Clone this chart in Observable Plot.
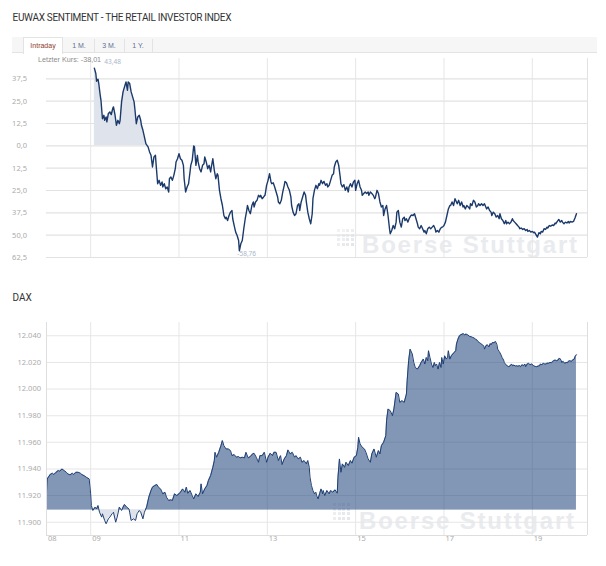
<!DOCTYPE html>
<html><head><meta charset="utf-8">
<script src="https://cdn.jsdelivr.net/npm/d3@7"></script>
<script src="https://cdn.jsdelivr.net/npm/@observablehq/plot@0.6"></script>
<style>
html,body{margin:0;padding:0;background:#fff;}
body{width:606px;height:566px;position:relative;overflow:hidden;font-family:"Liberation Sans",Arial,sans-serif;}
.abs{position:absolute;}
#title{left:12.5px;top:11.6px;font-family:Roboto,sans-serif;font-size:10px;line-height:12px;letter-spacing:-0.3px;color:#333;white-space:nowrap;}
#daxTitle{left:12.5px;top:292.3px;font-family:Roboto,sans-serif;font-size:10px;line-height:12px;color:#333;}
#tabbar{left:12px;top:37px;width:585px;height:16px;background:#f6f6f6;border-bottom:1px solid #e3e3e3;box-sizing:border-box;}
.tab{top:37px;height:16px;font-size:7px;line-height:17px;text-align:center;color:#5d6f92;box-sizing:border-box;}
.tab.active{background:#fff;border:1px solid #e3e3e3;border-bottom:none;color:#8e3a2a;line-height:15px;height:17px;}
.sep{top:39px;width:1px;height:14px;background:#e3e3e3;}
#last{left:38px;top:54.5px;font-size:7.2px;line-height:9px;color:#8c8c8c;white-space:nowrap;z-index:5;}
.wmtext{font-weight:bold;font-size:24px;line-height:24px;letter-spacing:1.8px;color:#e9ebee;white-space:nowrap;}
.logo{display:grid;grid-template-columns:repeat(4,3px);grid-gap:1.6px;}
.logo span{width:3px;height:3px;display:block;}
#chart1,#chart2{left:0;}
#chart1{top:0;z-index:2;}
#chart2{top:300px;z-index:2;}
</style></head><body>
<div id="title" class="abs">EUWAX SENTIMENT - THE RETAIL INVESTOR INDEX</div>
<div id="tabbar" class="abs"></div>
<div class="abs tab active" style="left:23px;width:40px;">Intraday</div>
<div class="abs tab" style="left:64px;width:30px;">1 M.</div>
<div class="abs sep" style="left:94px;"></div>
<div class="abs tab" style="left:94px;width:30px;">3 M.</div>
<div class="abs sep" style="left:124px;"></div>
<div class="abs tab" style="left:124px;width:28px;">1 Y.</div>
<div class="abs sep" style="left:152px;"></div>
<div id="wm1logo" class="abs logo" style="left:337px;top:229px;"></div>
<div class="abs wmtext" style="left:362px;top:233px;">Boerse Stuttgart</div>
<div id="chart1" class="abs"></div>
<div id="last" class="abs"></div>
<div id="daxTitle" class="abs">DAX</div>
<div id="wm2logo" class="abs logo" style="left:333px;top:503px;"></div>
<div class="abs wmtext" style="left:359px;top:509px;">Boerse Stuttgart</div>
<div id="chart2" class="abs"></div>
<script>
// ---------- DATA ----------
const euwaxTime = ["09:05","09:07","09:08","09:10","09:11","09:13","09:14","09:16","09:18","09:19","09:21","09:22","09:24","09:26","09:28","09:30","09:31","09:33","09:35","09:37","09:39","09:40","09:42","09:44","09:46","09:48","09:50","09:51","09:53","09:55","09:57","09:59","10:00","10:02","10:04","10:06","10:08","10:09","10:11","10:13","10:15","10:17","10:18","10:20","10:22","10:24","10:26","10:28","10:29","10:31","10:33","10:35","10:37","10:38","10:40","10:42","10:44","10:46","10:47","10:49","10:51","10:53","10:55","10:56","10:58","11:00","11:02","11:04","11:06","11:07","11:09","11:11","11:13","11:15","11:16","11:18","11:20","11:21","11:23","11:25","11:26","11:28","11:30","11:32","11:34","11:35","11:37","11:39","11:41","11:43","11:44","11:46","11:48","11:50","11:52","11:53","11:55","11:57","11:59","12:01","12:03","12:04","12:06","12:08","12:10","12:12","12:13","12:15","12:17","12:19","12:21","12:22","12:24","12:26","12:28","12:30","12:32","12:33","12:35","12:37","12:39","12:41","12:42","12:44","12:46","12:48","12:50","12:51","12:53","12:55","12:57","12:59","13:01","13:03","13:05","13:06","13:08","13:10","13:12","13:14","13:15","13:17","13:19","13:21","13:23","13:24","13:26","13:28","13:30","13:32","13:33","13:35","13:37","13:39","13:41","13:43","13:44","13:46","13:48","13:50","13:52","13:53","13:55","13:57","13:59","14:01","14:02","14:04","14:06","14:08","14:10","14:11","14:13","14:15","14:17","14:19","14:21","14:22","14:24","14:26","14:28","14:30","14:31","14:33","14:35","14:37","14:39","14:40","14:42","14:44","14:46","14:48","14:50","14:51","14:53","14:55","14:57","14:59","15:00","15:02","15:04","15:06","15:08","15:09","15:11","15:13","15:15","15:17","15:18","15:20","15:22","15:24","15:26","15:27","15:29","15:31","15:33","15:35","15:37","15:38","15:40","15:42","15:44","15:46","15:47","15:49","15:51","15:53","15:55","15:56","15:58","16:00","16:02","16:04","16:06","16:07","16:09","16:11","16:13","16:15","16:16","16:18","16:20","16:22","16:24","16:25","16:27","16:29","16:31","16:33","16:34","16:36","16:38","16:40","16:42","16:44","16:46","16:48","16:49","16:51","16:53","16:55","16:57","16:58","17:00","17:02","17:04","17:06","17:08","17:09","17:11","17:13","17:15","17:17","17:18","17:20","17:22","17:24","17:26","17:27","17:29","17:31","17:33","17:35","17:36","17:38","17:40","17:42","17:44","17:46","17:47","17:49","17:51","17:53","17:55","17:56","17:58","18:00","18:02","18:04","18:05","18:07","18:09","18:11","18:13","18:15","18:16","18:18","18:20","18:22","18:24","18:25","18:27","18:29","18:31","18:33","18:34","18:36","18:38","18:40","18:42","18:43","18:45","18:47","18:49","18:51","18:53","18:54","18:56","18:58","19:00","19:02","19:03","19:05","19:07","19:09","19:11","19:12","19:14","19:16","19:18","19:20","19:21","19:23","19:25","19:27","19:29","19:31","19:32","19:34","19:36","19:38","19:40","19:41","19:43","19:45","19:47","19:49","19:50","19:52","19:54","19:56","19:58","20:00"];
const euwaxValue = [43.48,40.5,36.2,37.3,34.9,28.3,25.5,15.2,17.1,14.3,16.2,13.4,18.0,19.0,17.5,20.9,21.8,17.5,11.5,14.3,12.4,14.3,24.6,30.2,33.0,35.8,31.1,35.8,34.9,30.2,27.4,24.6,20.9,12.4,16.2,17.1,14.3,11.5,8.7,5.0,1.2,0.0,-0.6,-3.4,-5.3,-11.8,-6.2,-5.3,-10.9,-21.2,-19.3,-22.1,-20.2,-23.0,-21.2,-24.0,-23.0,-25.8,-18.4,-17.4,-19.3,-16.5,-12.8,-9.0,-7.2,-4.4,-7.2,-8.1,-10.9,-18.4,-25.8,-23.0,-21.2,-14.6,-10.9,-8.1,0.0,-0.6,-10.9,-5.3,-9.0,-12.8,-14.6,-10.9,-10.0,-6.2,-9.0,-12.8,-10.9,-14.6,-11.8,-7.2,-13.7,-18.4,-15.6,-16.5,-24.9,-29.6,-33.4,-39.0,-40.8,-39.9,-41.8,-39.0,-37.1,-36.2,-40.8,-44.6,-48.3,-50.2,-53.0,-58.76,-54.8,-53.0,-46.4,-40.8,-36.2,-33.4,-36.2,-38.0,-33.4,-31.4,-34.2,-31.4,-30.5,-27.7,-28.6,-27.7,-29.6,-28.6,-27.5,-22.1,-19.3,-15.6,-20.2,-21.2,-20.7,-23.0,-25.8,-28.6,-31.4,-32.4,-30.5,-25.8,-22.1,-19.9,-20.7,-23.0,-24.9,-28.6,-33.4,-37.1,-39.0,-38.0,-33.4,-32.4,-36.2,-31.4,-28.6,-25.8,-27.7,-31.4,-37.1,-40.8,-43.6,-38.0,-29.6,-24.9,-22.1,-24.0,-21.2,-22.1,-19.3,-21.2,-19.9,-22.1,-21.2,-23.0,-22.1,-19.3,-16.5,-15.6,-11.8,-9.0,-8.1,-10.9,-17.4,-21.2,-23.0,-21.7,-24.9,-23.0,-25.8,-23.0,-21.2,-23.0,-20.2,-19.3,-24.9,-21.2,-19.3,-23.0,-24.9,-27.7,-26.7,-25.8,-26.7,-25.8,-27.7,-25.8,-26.7,-27.7,-29.6,-28.6,-24.9,-26.7,-31.4,-34.2,-33.4,-39.0,-35.3,-33.4,-39.0,-46.4,-49.2,-47.4,-44.6,-46.4,-42.7,-37.1,-36.2,-42.7,-45.5,-40.8,-39.9,-41.8,-40.8,-42.7,-40.4,-39.0,-38.7,-39.0,-38.0,-40.8,-43.6,-45.5,-46.4,-44.6,-46.4,-48.3,-47.4,-49.2,-46.4,-45.5,-46.4,-45.5,-44.6,-46.4,-48.3,-47.4,-48.3,-46.4,-45.5,-45.5,-44.6,-42.7,-39.0,-35.3,-33.4,-33.4,-31.4,-33.4,-29.6,-31.4,-32.4,-30.5,-33.4,-31.4,-34.2,-33.4,-35.3,-33.4,-34.2,-35.3,-32.4,-33.4,-30.5,-31.4,-34.2,-33.4,-32.4,-33.4,-32.4,-33.4,-32.4,-33.4,-35.3,-34.2,-36.2,-37.1,-39.0,-37.1,-38.0,-39.9,-39.0,-40.8,-38.0,-40.8,-41.8,-43.6,-41.8,-43.6,-42.7,-43.6,-42.7,-40.8,-41.8,-42.7,-43.6,-44.6,-45.5,-46.4,-46.0,-46.8,-46.4,-47.4,-46.8,-47.9,-47.4,-48.3,-47.9,-48.6,-48.3,-49.7,-51.1,-48.6,-49.2,-47.9,-48.3,-46.4,-46.8,-45.5,-46.0,-44.6,-45.0,-44.3,-44.6,-43.2,-43.6,-42.3,-41.2,-42.7,-41.8,-42.7,-43.6,-42.7,-43.2,-42.3,-43.2,-42.3,-42.7,-42.3,-40.4,-38.01];

const daxTime = ["08:00","08:01","08:05","08:08","08:10","08:13","08:16","08:18","08:21","08:24","08:27","08:29","08:32","08:35","08:37","08:40","08:43","08:46","08:48","08:51","08:54","08:58","09:00","09:01","09:03","09:06","09:08","09:10","09:12","09:15","09:16","09:19","09:21","09:24","09:26","09:29","09:31","09:34","09:36","09:39","09:42","09:44","09:46","09:49","09:52","09:53","09:55","09:58","10:01","10:03","10:06","10:08","10:11","10:13","10:16","10:19","10:22","10:24","10:27","10:30","10:32","10:35","10:38","10:41","10:43","10:46","10:49","10:51","10:54","10:57","11:00","11:02","11:05","11:08","11:10","11:12","11:15","11:18","11:20","11:23","11:26","11:29","11:30","11:32","11:35","11:38","11:40","11:43","11:46","11:48","11:49","11:51","11:54","11:57","11:59","12:01","12:04","12:07","12:10","12:12","12:15","12:18","12:21","12:23","12:26","12:29","12:31","12:34","12:37","12:40","12:42","12:45","12:48","12:50","12:53","12:56","12:59","13:01","13:04","13:07","13:09","13:12","13:15","13:18","13:20","13:23","13:26","13:28","13:31","13:34","13:37","13:39","13:42","13:45","13:47","13:50","13:53","13:55","13:57","13:58","14:00","14:02","14:04","14:06","14:07","14:09","14:11","14:13","14:15","14:16","14:18","14:21","14:24","14:26","14:29","14:32","14:35","14:36","14:38","14:40","14:42","14:45","14:47","14:50","14:53","14:55","14:58","15:01","15:03","15:04","15:06","15:09","15:12","15:14","15:17","15:20","15:22","15:25","15:28","15:31","15:33","15:35","15:38","15:41","15:42","15:44","15:47","15:50","15:52","15:55","15:58","16:00","16:03","16:06","16:09","16:10","16:12","16:14","16:17","16:19","16:21","16:24","16:27","16:29","16:32","16:34","16:36","16:38","16:39","16:41","16:43","16:45","16:47","16:48","16:50","16:52","16:54","16:56","16:57","16:59","17:01","17:03","17:05","17:06","17:08","17:10","17:12","17:14","17:16","17:17","17:19","17:21","17:23","17:25","17:26","17:28","17:30","17:32","17:34","17:35","17:37","17:39","17:41","17:43","17:45","17:46","17:48","17:50","17:52","17:54","17:55","17:57","17:59","18:01","18:03","18:04","18:06","18:08","18:10","18:12","18:13","18:15","18:17","18:19","18:21","18:22","18:24","18:26","18:28","18:30","18:32","18:33","18:35","18:37","18:39","18:41","18:42","18:44","18:46","18:48","18:50","18:51","18:53","18:55","18:57","18:59","19:01","19:02","19:04","19:06","19:08","19:10","19:11","19:13","19:15","19:17","19:19","19:20","19:22","19:24","19:26","19:28","19:29","19:31","19:33","19:35","19:37","19:39","19:40","19:42","19:44","19:46","19:48","19:49","19:51","19:53","19:55","19:57","19:58","20:00"];
const daxValue = [11922.5,11932.5,11935.8,11936.8,11935.8,11937.5,11938.8,11938.3,11940.0,11938.8,11937.5,11936.3,11935.5,11936.8,11935.8,11937.5,11937.5,11936.8,11935.8,11935.0,11933.8,11932.5,11921.3,11912.5,11908.8,11911.3,11910.0,11912.5,11907.5,11903.8,11906.3,11901.3,11898.8,11902.5,11903.8,11906.3,11907.5,11900.0,11903.8,11911.3,11908.8,11911.3,11913.3,11911.3,11910.0,11907.5,11901.3,11902.5,11901.3,11906.3,11908.8,11907.5,11902.5,11907.5,11911.3,11918.8,11923.8,11926.3,11927.5,11928.3,11926.3,11925.0,11921.3,11922.5,11918.8,11916.3,11916.8,11916.3,11921.3,11920.0,11921.3,11922.5,11925.0,11922.5,11926.3,11921.7,11923.8,11920.0,11917.5,11921.3,11919.3,11922.5,11928.8,11921.3,11925.0,11927.5,11931.3,11935.0,11941.2,11946.3,11952.5,11948.8,11952.5,11957.5,11961.3,11957.5,11955.0,11955.0,11953.8,11950.0,11950.8,11948.8,11949.3,11948.3,11948.8,11948.3,11952.5,11948.3,11949.3,11951.3,11951.8,11948.8,11945.0,11950.0,11950.0,11952.5,11945.0,11948.8,11951.8,11950.0,11952.5,11952.5,11946.3,11950.0,11943.3,11947.5,11950.0,11954.3,11951.3,11952.5,11948.8,11950.0,11947.5,11948.8,11945.0,11946.3,11943.8,11946.3,11941.2,11933.8,11927.5,11923.8,11921.3,11922.5,11920.0,11917.5,11921.3,11925.0,11921.3,11923.8,11920.0,11923.8,11921.3,11923.8,11922.5,11924.3,11921.8,11933.8,11947.5,11937.5,11943.8,11941.2,11945.0,11942.5,11946.3,11944.3,11948.8,11950.0,11956.3,11963.8,11958.8,11956.3,11955.0,11952.5,11947.5,11945.0,11951.3,11955.0,11948.8,11953.8,11951.3,11957.5,11960.0,11965.0,11976.3,11985.0,11983.8,11980.0,11985.0,11997.5,11996.3,11990.0,11991.3,11990.0,11996.3,12006.3,12021.3,12030.0,12026.3,12020.0,12016.2,12015.0,12017.5,12020.0,12022.5,12018.8,12023.7,12021.3,12028.8,12023.7,12018.8,12016.2,12020.0,12017.5,12018.8,12015.0,12020.0,12016.2,12023.7,12018.8,12025.0,12022.5,12023.7,12028.8,12022.5,12025.0,12026.3,12027.5,12028.8,12033.8,12037.5,12040.0,12040.8,12041.3,12041.7,12040.8,12041.3,12040.8,12040.0,12039.5,12039.3,12038.8,12038.3,12037.5,12036.8,12035.8,12035.0,12034.2,12033.3,12032.5,12030.0,12032.5,12033.3,12031.7,12034.2,12033.3,12035.0,12034.7,12035.8,12033.3,12030.0,12028.3,12026.3,12023.7,12021.8,12020.0,12018.3,12017.5,12016.8,12017.5,12018.8,12017.5,12018.0,12017.3,12017.5,12017.0,12017.8,12016.8,12018.3,12017.5,12018.8,12016.8,12018.8,12019.3,12018.3,12018.8,12018.0,12017.5,12017.0,12016.8,12017.3,12017.5,12018.8,12018.3,12019.3,12018.8,12018.8,12019.5,12019.3,12020.0,12019.8,12020.8,12021.3,12021.8,12021.3,12021.8,12023.3,12021.8,12020.0,12020.8,12019.3,12020.0,12019.8,12020.8,12021.3,12020.8,12021.8,12022.5,12024.3,12025.8];
const daxBaseline = 11909;

const euwaxTicks = [-62.5,-50,-37.5,-25,-12.5,0,12.5,25,37.5];
const daxTicks = [11900,11920,11940,11960,11980,12000,12020,12040];
const timeDomain = ["08:00","20:15"];
const gridTimes = ["09:00","11:00","13:00","15:00","17:00","19:00"];
const labelTimes = ["08:00","09:00","11:00","13:00","15:00","17:00","19:00"];
const euwaxDomain = [-62.5, 48.9];
const daxDomain = [11890, 12050];

// ---------- HELPERS ----------
const parseT = s => { const [h, m] = s.split(":").map(Number); return new Date(Date.UTC(2019, 10, 19, h, m)); };
const de = d3.formatLocale({decimal: ",", thousands: ".", grouping: [3], currency: ["", " €"], minus: "-"});
const fmt1 = de.format(".1f"), fmt2 = de.format(",.0f"), fmtVal = de.format(".2f");
const fmtHour = d3.utcFormat("%H");

const euwax = euwaxTime.map((t, i) => ({t: parseT(t), v: euwaxValue[i]}));
const dax = daxTime.map((t, i) => ({t: parseT(t), v: daxValue[i]}));
const xDom = timeDomain.map(parseT);
const grid = gridTimes.map(parseT);
const labels = labelTimes.map(parseT);

const maxPt = euwax.reduce((a, b) => b.v > a.v ? b : a);
const minPt = euwax.reduce((a, b) => b.v < a.v ? b : a);
const lastPt = euwax[euwax.length - 1];
document.getElementById("last").textContent = "Letzter Kurs: " + fmtVal(lastPt.v);

const ns = "http://www.w3.org/2000/svg";
let clipId = 0;
function clipG(svg, g, y0, y1) {
  const defs = document.createElementNS(ns, "defs");
  const cp = document.createElementNS(ns, "clipPath");
  const id = "clip" + (clipId++);
  cp.setAttribute("id", id);
  const r = document.createElementNS(ns, "rect");
  r.setAttribute("x", 0); r.setAttribute("y", y0);
  r.setAttribute("width", 606); r.setAttribute("height", Math.max(0, y1 - y0));
  cp.appendChild(r); defs.appendChild(cp); svg.insertBefore(defs, svg.firstChild);
  g.setAttribute("clip-path", `url(#${id})`);
}

// ---------- CHART 1: EUWAX ----------
const p1 = Plot.plot({
  width: 606, height: 270,
  marginTop: 58, marginBottom: 13, marginLeft: 46, marginRight: 19,
  style: {background: "transparent", overflow: "visible"},
  x: {type: "utc", domain: xDom, axis: null},
  y: {domain: euwaxDomain, axis: null},
  marks: [
    Plot.ruleY(euwaxTicks, {stroke: "#e2e2e2", strokeWidth: 1.2}),
    Plot.ruleX(grid, {stroke: "#e6e6e6", strokeWidth: 1}),
    Plot.ruleX([xDom[1]], {stroke: "#e2e2e2", strokeWidth: 1}),
    Plot.areaY(euwax, {x: "t", y1: 0, y2: "v", fill: "#dfe4ec"}),
    Plot.lineY(euwax, {x: "t", y: "v", stroke: "#1b3a6b", strokeWidth: 1.4, strokeLinejoin: "round"}),
    Plot.text(euwaxTicks, {y: d => d, frameAnchor: "left", dx: -19.5, textAnchor: "end", text: d => fmt1(d), fill: "#ababab", fontSize: 7.5}),
    Plot.text([maxPt], {x: "t", y: "v", text: d => fmtVal(d.v), dx: 10, dy: -6, textAnchor: "start", fill: "#a9b6ca", fontSize: 6.5}),
    Plot.text([minPt], {x: "t", y: "v", text: d => fmtVal(d.v), dx: -2, dy: 3.5, textAnchor: "start", fill: "#a9b6ca", fontSize: 6.5})
  ]
});
p1.style.clipPath = "inset(0 0 0 12px)";
document.getElementById("chart1").appendChild(p1);
{
  const y0 = p1.scale("y").apply(0);
  const areas = p1.querySelectorAll('g[aria-label="area"]');
  if (areas[0]) clipG(p1, areas[0], 0, y0);
}

// ---------- CHART 2: DAX ----------
const p2 = Plot.plot({
  width: 606, height: 260,
  marginTop: 22, marginBottom: 25, marginLeft: 46, marginRight: 19,
  style: {background: "transparent", overflow: "visible"},
  x: {type: "utc", domain: xDom, axis: null},
  y: {domain: daxDomain, axis: null},
  marks: [
    Plot.ruleY(daxTicks, {stroke: "#e6e6e6", strokeWidth: 1.1}),
    Plot.ruleX(grid, {stroke: "#e6e6e6", strokeWidth: 1}),
    Plot.areaY(dax, {x: "t", y1: daxBaseline, y2: "v", fill: "#24467c", fillOpacity: 0.57}),
    Plot.areaY(dax, {x: "t", y1: daxBaseline, y2: "v", fill: "#24467c", fillOpacity: 0.15}),
    Plot.lineY(dax, {x: "t", y: "v", stroke: "#1f3f73", strokeWidth: 1, strokeLinejoin: "round"}),
    Plot.ruleX(xDom, {stroke: "#dedede", strokeWidth: 1}),
    Plot.ruleY([daxDomain[0]], {stroke: "#dedede", strokeWidth: 1}),
    Plot.text(daxTicks, {y: d => d, frameAnchor: "left", dx: -5.5, textAnchor: "end", text: d => fmt2(d), fill: "#ababab", fontSize: 7.5}),
    Plot.text(labels, {x: d => d, frameAnchor: "bottom", dx: 1.5, dy: 5, textAnchor: "start", text: d => fmtHour(d), fill: "#ababab", fontSize: 7.5})
  ]
});
document.getElementById("chart2").appendChild(p2);
{
  const yb = p2.scale("y").apply(daxBaseline);
  const areas = p2.querySelectorAll('g[aria-label="area"]');
  if (areas[0]) clipG(p2, areas[0], 0, yb);
  if (areas[1]) clipG(p2, areas[1], yb, 600);
}

// ---------- watermark logos ----------
const shades = ["#f1f2f4","#eceef0","#e7e9ec","#e4e6e9"];
for (const id of ["wm1logo", "wm2logo"]) {
  const el = document.getElementById(id);
  for (let r = 0; r < 4; r++) for (let c = 0; c < 4; c++) {
    const s = document.createElement("span");
    s.style.background = shades[Math.min(3, Math.floor((r + c) / 2))];
    el.appendChild(s);
  }
}
</script>
</body></html>
